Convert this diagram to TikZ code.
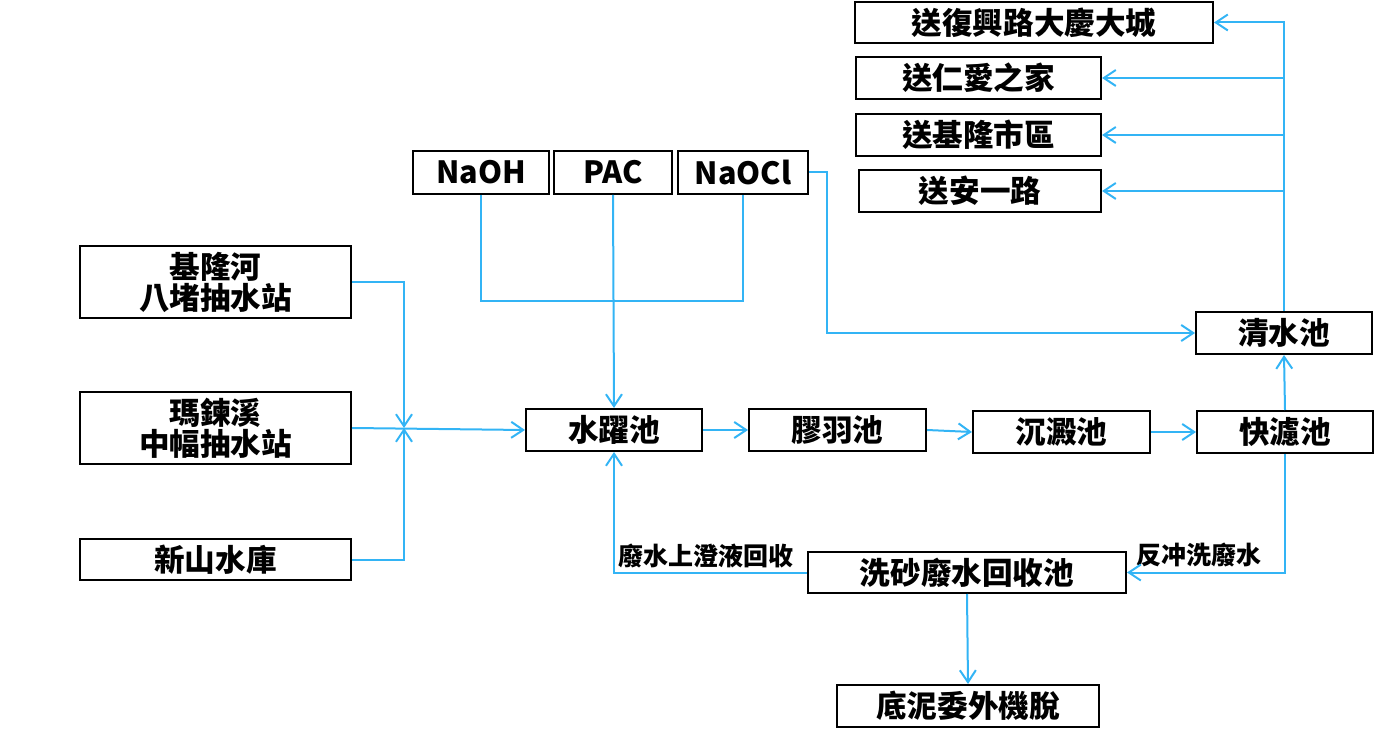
\documentclass[tikz,border=0pt]{standalone}
\usepackage{fontspec}
\setmainfont{Noto Sans CJK TC}
\usetikzlibrary{arrows.meta}
\definecolor{flow}{RGB}{51,180,245}
\tikzset{
  box/.style={draw=black, line width=1pt, fill=white, inner sep=0pt, align=center,
    font=\fontsize{15.3}{16}\selectfont\bfseries},
  lbl/.style={font=\fontsize{12.5}{13}\selectfont\bfseries, inner sep=0pt},
  conn/.style={draw=flow, line width=1pt},
  arr/.style={conn, -{Straight Barb[length=6pt,width=8pt]}}
}
\begin{document}
\begin{tikzpicture}[x=0.5pt,y=-0.5pt]
\useasboundingbox (0,0) rectangle (1380,742);
% destinations
\node[box, minimum width=179pt, minimum height=20.5pt] (s1) at (1034,22.5) {送復興路大慶大城};
\node[box, minimum width=122.5pt, minimum height=21pt] (s2) at (978.5,78) {送仁愛之家};
\node[box, minimum width=122.5pt, minimum height=21pt] (s3) at (978.5,135) {送基隆市區};
\node[box, minimum width=121pt, minimum height=21pt] (s4) at (980,191) {送安一路};
% chemicals
\node[box, minimum width=68pt, minimum height=21.5pt] (naoh) at (481,172.5) {NaOH};
\node[box, minimum width=59pt, minimum height=21.5pt] (pac) at (613,172.5) {PAC};
\node[box, minimum width=65pt, minimum height=21.5pt] (naocl) at (743,172.5) {NaOCl};
% sources
\node[box, minimum width=135.5pt, minimum height=36pt, font=\fontsize{15.3}{15.5}\selectfont\bfseries] (r1) at (215.5,282) {基隆河\\八堵抽水站};
\node[box, minimum width=135.5pt, minimum height=36pt, font=\fontsize{15.3}{15.5}\selectfont\bfseries] (r2) at (215.5,428) {瑪鍊溪\\中幅抽水站};
\node[box, minimum width=135.5pt, minimum height=20.5pt] (r3) at (215.5,559.5) {新山水庫};
% process
\node[box, minimum width=88pt, minimum height=21pt] (p1) at (614,430) {水躍池};
\node[box, minimum width=88.5pt, minimum height=21pt] (p2) at (837.5,430) {膠羽池};
\node[box, minimum width=88.5pt, minimum height=21pt] (p3) at (1061.5,432) {沉澱池};
\node[box, minimum width=88pt, minimum height=21pt] (p4) at (1285,432) {快濾池};
\node[box, minimum width=88pt, minimum height=21pt] (p5) at (1284,333) {清水池};
\node[box, minimum width=159pt, minimum height=20.5pt] (w1) at (967,572.5) {洗砂廢水回收池};
\node[box, minimum width=131pt, minimum height=21pt] (w2) at (968,706) {底泥委外機脫};
% labels
\node[lbl] (l1) at (706,556) {廢水上澄液回收};
\node[lbl] (l2) at (1199,555) {反冲洗廢水};
% junctions
\coordinate (j) at (404,428);
\coordinate (m) at (613,301);
% source connectors
\draw[arr] (r1.east) -| (j);
\draw[arr] (r3.east) -| (j);
\draw[arr] (r2.east) -- (p1.west);
% chemicals
\draw[conn] (naoh.south) |- (m) -| (naocl.south);
\draw[arr] (pac.south) -- (p1.north);
\draw[arr] (naocl.east) -- ++(18,0) |- (p5.west);
% process chain
\draw[arr] (p1) -- (p2);
\draw[arr] (p2.east) -- (p3.west);
\draw[arr] (p3) -- (p4);
\draw[arr] (p4.north) -- (p5.south);
% distribution
\draw[arr] (p5.north) -- (p5.north |- s1.east) -- (s1.east);
\draw[arr] (p5.north |- s2.east) -- (s2.east);
\draw[arr] (p5.north |- s3.east) -- (s3.east);
\draw[arr] (p5.north |- s4.east) -- (s4.east);
% backwash
\draw[arr] (p4.south) |- (w1.east);
\draw[arr] (w1.west) -| (p1.south);
\draw[arr] (w1.south) -- (w2.north);
\end{tikzpicture}
\end{document}
